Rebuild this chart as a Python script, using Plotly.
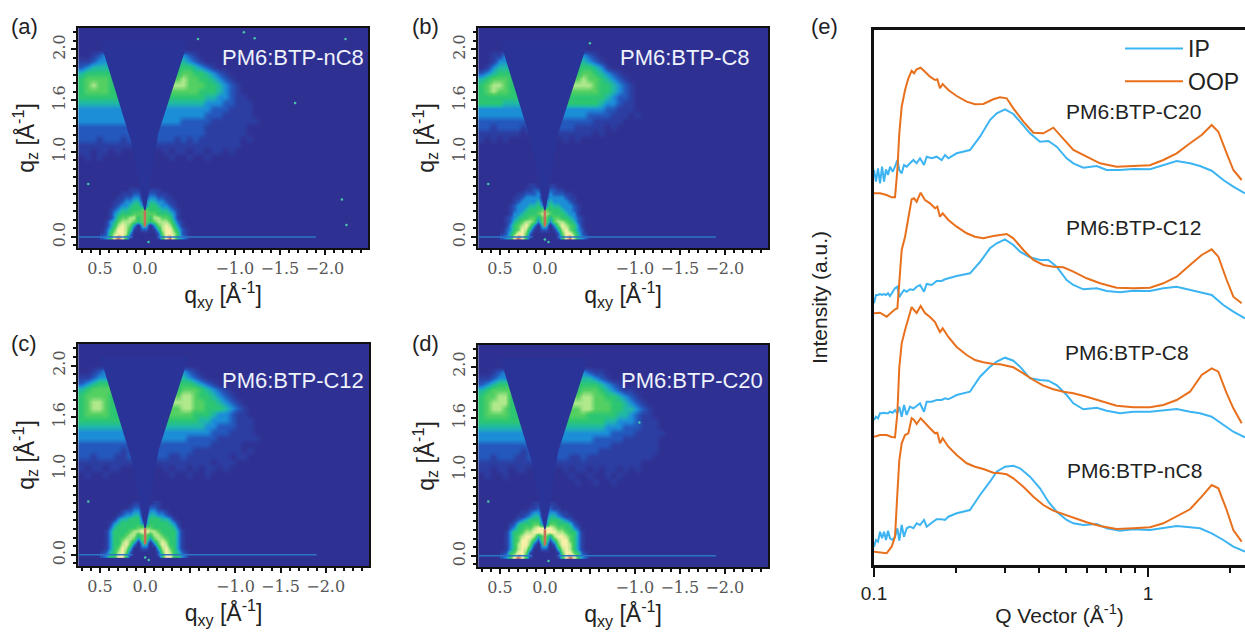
import plotly.graph_objects as go

# GIWAXS maps: one digit per cell, 0 = background ... 9 = hottest
wing_a = ["", "", "", "",
    "001233000000000" + "33321",
    "112333300000000" + "444321",
    "234444400000000" + "55554321",
    "45555550000000" + "55" + "566554321",
    "56666555000000" + "66" + "6766554321",
    "5676655500000" + "77" + "777666554321",
    "5666655500000" + "66" + "666665554321",
    "5555555550000" + "55" + "5555554433211",
    "4444444440000" + "44" + "44444433322111",
    "3333333330000" + "33" + "33333332221111",
    "3333333330000" + "33" + "33333322211111",
    "333333333300" + "33" + "3332222211111111",
    "222222222200" + "22" + "22222221111111",
    "222222222200" + "22" + "22222221111111",
    "222122212200" + "22" + "221212111111101",
    "111111111100" + "11" + "1111111111111",
    "11011010000000" + "1011011011010",
    "01010000000000" + "01001001"]
wing_b = ["", "", "", "",
    "001133000000000" + "33321",
    "001333300000000" + "444321",
    "013444400000000" + "5555431",
    "23455550000000" + "55" + "56654321",
    "45666555000000" + "66" + "676654321",
    "5677655500000" + "77" + "77776554321",
    "5676655500000" + "66" + "66666554321",
    "5555555550000" + "55" + "55555543221",
    "5555444440000" + "55" + "55555433211",
    "3333333330000" + "33" + "33333322111",
    "3333333330000" + "33" + "333222211101",
    "222222222200" + "22" + "2222211111",
    "221222212200" + "22" + "221111101",
    "111111101100" + "11" + "1111101",
    "10101000000000" + "10100"]
wing_c = ["", "", "", "",
    "001233000000000" + "33321",
    "112333300000000" + "444321",
    "234555500000000" + "55554321",
    "45666660000000" + "55" + "566654321",
    "56666555000000" + "77" + "6776554321",
    "5677655500000" + "77" + "777766554321"[0:1] + "77766554321",
    "5677655500000" + "66" + "6" + "677665554321",
    "5666655550000" + "66" + "6666555433211",
    "5555555550000" + "55" + "55555443332111",
    "4444444440000" + "44" + "44444433222111",
    "3333333330000" + "33" + "33333332221111",
    "333333333300" + "33" + "3333222221111111",
    "222222222200" + "22" + "2222222211111",
    "222222212200" + "22" + "222221111111101",
    "221222112200" + "22" + "211211111110110",
    "111111111100" + "11" + "1111111101110",
    "10110110000000" + "10110101101",
    "01001000000000" + "01001001"]
wing_d = ["", "", "", "",
    "001233000000000" + "333211",
    "112333300000000" + "4444321",
    "234555500000000" + "555554321",
    "45666660000000" + "55" + "5666543211",
    "56677555000000" + "77" + "67766554321",
    "5677755500000" + "77" + "7" + "777666554321",
    "5677655500000" + "66" + "6" + "6776665544321",
    "5666655550000" + "66" + "66655555443211",
    "5555555550000" + "55" + "555555443332111",
    "4444444440000" + "44" + "444444333222111",
    "3333333330000" + "33" + "3333333222211111",
    "333333333300" + "33" + "3333322222111111",
    "222222222200" + "22" + "2222222211111111",
    "222222212200" + "22" + "2222221111111111",
    "221222112200" + "22" + "211211111111111",
    "111111111100" + "11" + "1111111111111",
    "11011011000000" + "1011010110101",
    "01001000000000" + "0100100101",
    "00000000000000" + "0010010010"]

ring_a = ["",
    "000000011100111",
    "00000111221122111",
    "000011223312332211",
    "0001123344234433211",
    "0001233455335543321",
    "00123445556655544321",
    "00134555666666555431",
    "00135667756657766531",
    "013467776566567776421",
    "013578763044036787531",
    "0246887510220147886421",
    "1257887300000026887521",
    "2358985100000015897432"]
ring_b = ["000000011000110",
    "0000001122002211",
    "000011222311322211",
    "0001123333123333211",
    "0001233334234333321",
    "00123334453354433321",
    "00123345556655543321",
    "00133455567765554331",
    "012345566466466554321",
    "012456776366367765421",
    "013567863044036876531",
    "023568741022014786532",
    "1246886200000026886421",
    "2348985100000015897432"]
ring_c = ["0000000011000110",
    "000000012200221",
    "00000122331133221",
    "000012334412443321",
    "0001344555235554431",
    "00134555553355555431",
    "00245555566665555542",
    "013555567788776555531",
    "013555677566577655531",
    "013556776366367765531",
    "013557863044036875531",
    "013568740022004786531",
    "1245786200000026875421",
    "2355885100000015885532"]
ring_d = ["000000001100110",
    "000000011200211",
    "00000112331133211",
    "000011234412443211",
    "0001234555235554321",
    "00124555663366555421",
    "00235566788887665532",
    "013556778888887765531",
    "013567887466478876531",
    "013568875266257886531",
    "013578862044026887531",
    "013578740022004787531",
    "1256886100000016886521",
    "2358985100000015898532"]

level_colors = ["#2f3192", "#2c3ea2", "#2458bc", "#1c8ed8", "#20b8a8",
                "#2cc672", "#54d062", "#b0e88c", "#f8f0a8", "#c8705a"]

# beam-stop shadow and the thin specular streak (qxy, qz)
wedge_x = [0.499, 0.148, 0.008, -0.008, -0.148, -0.482]
wedge_y = [2.30, 1.098, 0.31, 0.31, 1.216, 2.30]
streak_x = [0, 0]
streak_y = [0.12, 0.31]

# faint single hot pixels (qxy, qz)
speck_x = [[-0.59, -1.10, -1.22, -2.23, 0.63, -2.19, -2.24, -0.04, -1.67],
           [-0.50, 0.63, -0.04, 0.0],
           [0.63, -0.04, 0.0],
           [0.63, -0.04, -1.05]]
speck_y = [[2.32, 2.40, 2.33, 2.32, 0.62, 0.44, 0.14, -0.06, 1.57],
           [2.27, 0.62, -0.06, -0.03],
           [0.62, -0.06, -0.03],
           [0.63, -0.06, 1.55]]

horizon_x = [0.74, 0.14, None, -0.14, -1.9]
horizon_y = [0, 0, None, 0, 0]

map_names = ["PM6:BTP-nC8", "PM6:BTP-C8", "PM6:BTP-C12", "PM6:BTP-C20"]
map_tags = ["(a)", "(b)", "(c)", "(d)"]

qz_tickvals = [0, 1.0, 1.6, 2.2]
qz_ticktext = ["0.0", "1.0", "1.6", "2.0"]
qxy_tickvals = [0.5, 0, -0.5, -1.0, -1.5, -2.0]
qxy_ticktext = ["0.5", "0.0", "", "\u22121.0", "\u22121.5", "\u22122.0"]

# line cuts (e), intensity in a.u. with the stacking offsets left in
q_ip = [0.1, 0.1017, 0.1034, 0.1052, 0.107, 0.1088, 0.1106, 0.1125, 0.1144, 0.117, 0.1193, 0.1217, 0.1237, 0.1262,
        0.1287, 0.1316, 0.1353, 0.1392, 0.1431, 0.1472, 0.1522, 0.1557, 0.1624, 0.1693, 0.1766, 0.1816, 0.1868,
        0.2003, 0.224, 0.2437, 0.265, 0.2804, 0.3007, 0.3225, 0.3411, 0.371, 0.4035, 0.4328, 0.4642, 0.5048, 0.534,
        0.5807, 0.6497, 0.7066, 0.7902, 0.8842, 1.0169, 1.1376, 1.2724, 1.4235, 1.548, 1.7076, 1.883, 2.0484, 2.2594]
ip_c20 = [395, 383.3, 396.7, 381.7, 398.3, 383.3, 395.7, 390, 398.3, 393.3, 398.3, 405, 395, 391.7, 400,
          398.3, 401.7, 405, 401.7, 406.7, 400, 408.3, 406.7, 408.3, 405, 410, 406.7, 411.7, 415, 428.3,
          445, 451.7, 455.7, 451, 443.3, 431.7, 423.3, 424, 418.3, 406.7, 401.7, 397.3, 399, 395, 395,
          396, 395.7, 400, 404, 401.7, 399, 394.3, 385, 378.3, 371.7]
ip_c12 = [261.7, 270, 270, 271, 270, 271, 270, 271.7, 269, 273.3, 276.7, 278.3, 267.7, 271.7, 275,
          273.3, 275.7, 275, 278.3, 280, 273.3, 281, 280, 284, 284, 285.7, 286.7, 289, 291.7, 303,
          316.7, 321.7, 325.7, 320, 313.3, 307.7, 305, 305, 298.3, 285, 280, 275.7, 276.7, 274, 272.7,
          274.3, 274, 276.7, 278.3, 275, 273.3, 270, 260, 253.3, 246.7]
ip_c8 = [145, 148.3, 146.7, 151.7, 151.7, 152.3, 151.7, 151.7, 153.3, 152.3, 155, 151.7, 158.3, 148.3, 160,
         150, 158.3, 156.7, 159, 161.7, 153.3, 163.3, 163.3, 165, 165, 166.7, 165.7, 170, 173.3, 188.3,
         198.3, 203.3, 207.3, 204.3, 198.3, 186.7, 185, 184.3, 180, 170, 161.7, 155.7, 157.3, 154.3, 151.7,
         153.3, 153.3, 154.3, 156, 153.3, 151.7, 148.3, 140, 133.3, 127.7]
ip_nc8 = [18.3, 25, 23.3, 33.3, 26.7, 33.3, 25, 34.3, 26.7, 25, 28.3, 36.7, 24.3, 40, 28.3,
          36.7, 38.3, 36.7, 41.7, 40, 45, 38.3, 42.3, 45.7, 45.7, 45, 48.3, 51.7, 55, 70,
          83.3, 93.3, 98.3, 99.3, 96.7, 88.3, 76.7, 63.3, 53.3, 45, 41.7, 40, 41, 36.7, 34.3,
          35.7, 35, 36.7, 39, 37.7, 36.7, 31.7, 25, 18.3, 13.3]

q_oop = [0.1, 0.1052, 0.1112, 0.116, 0.1193, 0.1217, 0.1237, 0.1262, 0.1298, 0.1335, 0.1372, 0.14, 0.1431, 0.148,
         0.1535, 0.1601, 0.167, 0.1703, 0.1741, 0.1781, 0.1868, 0.2003, 0.2179, 0.2336, 0.2506, 0.2726, 0.2883,
         0.305, 0.3225, 0.3508, 0.3816, 0.415, 0.4513, 0.4909, 0.534, 0.5972, 0.6682, 0.7686, 0.8842, 1.0169,
         1.1376, 1.2724, 1.4235, 1.5699, 1.7076, 1.806, 1.9373, 2.0484, 2.197]
oop_c20 = [371.7, 371.7, 370, 367.7, 367.7, 395, 431.7, 458.3, 475, 486.7, 494.3, 491.7, 495.7, 497.3, 493.3,
           488.3, 485, 485.7, 476.7, 481, 475, 469, 463.3, 460.7, 461, 465.7, 467.7, 466.7, 456.7, 443.3,
           432.3, 431.7, 437.3, 426.7, 415, 408.3, 401.7, 398.3, 399, 399.7, 405, 411.7, 421.7, 430, 440,
           433.3, 411.7, 395, 385]
oop_c12 = [251.7, 252.3, 248.3, 253.3, 255.7, 256.7, 288.3, 315, 328.3, 348.3, 365.7, 366.7, 363.3, 372.3, 365,
           361.7, 356.7, 358.3, 348.3, 351.7, 345, 338.3, 331.7, 328.3, 326.7, 329, 330, 331, 326.7, 315,
           305, 300, 298.3, 297.7, 293.3, 286.7, 281.7, 277.3, 276.7, 277.3, 281.7, 288.3, 300, 310, 315.7,
           308.3, 285, 268.3, 261.7]
oop_c8 = [128.3, 130, 130, 128, 127.7, 151.7, 198, 221.7, 235, 248, 258, 255, 252, 259, 252,
          248, 243, 238, 233, 236.7, 228, 218, 210, 205, 202.7, 201, 200.7, 199.3, 197.7, 191.7,
          185, 179.3, 175.7, 173.3, 171.7, 168.3, 164, 159.3, 157.7, 157.7, 160, 165, 173.3, 190, 196.7,
          193.3, 171.7, 156.7, 141.7]
oop_nc8 = [13.3, 12.3, 11.7, 18.3, 28.3, 71.7, 105, 121.7, 130, 131.7, 146.7, 145, 141, 146.7, 141.7,
           136.7, 131.7, 132.3, 121.7, 126.7, 118.3, 110, 101.7, 98.3, 96, 92.3, 91.7, 90.7, 86.7, 78.3,
           68.3, 60, 54.3, 50.7, 46.7, 42.7, 39, 36, 36.7, 37.7, 41.7, 48.3, 55.7, 68.3, 80,
           76.7, 55, 35, 23.3]

W, H = 1245, 633


def digits(rows, n_rows, n_cols):
    rows = rows + [""] * (n_rows - len(rows))
    return [[int(ch) for ch in row.ljust(n_cols, "0")] for row in rows]


def px_dom(a, b, size, flip=False):
    if flip:
        return [1 - b / size, 1 - a / size]
    return [a / size, b / size]


def paper_note(text, px, py, size, color):
    return dict(text=text, x=px / W, y=1 - py / H, xref="paper", yref="paper", showarrow=False,
                xanchor="center", yanchor="middle",
                font=dict(family="Liberation Sans", size=size, color=color))


colorscale = [[i / 9, c] for i, c in enumerate(level_colors)]
fig = go.Figure()

boxes = [(78, 368, 28, 248), (478, 768, 28, 248), (78, 369, 344, 566), (478, 768, 345, 567)]
wings = [wing_a, wing_b, wing_c, wing_d]
rings = [ring_a, ring_b, ring_c, ring_d]

annotations = []
for i, (x0, x1, y0, y1) in enumerate(boxes):
    xname = "x" if i == 0 else f"x{i + 1}"
    yname = "y" if i == 0 else f"y{i + 1}"
    fig.add_trace(go.Heatmap(z=digits(wings[i], 37, 49), x0=0.7074, dx=-0.0667, y0=2.416, dy=-0.0706,
                             zmin=0, zmax=9, colorscale=colorscale, showscale=False, zsmooth="best",
                             hoverinfo="skip", xaxis=xname, yaxis=yname))
    fig.add_trace(go.Heatmap(z=digits(rings[i], 14, 23), x0=0.4778, dx=-0.0444, y0=0.604, dy=-0.04706,
                             zmin=0, zmax=9, colorscale=colorscale, showscale=False, zsmooth="best",
                             hoverinfo="skip", xaxis=xname, yaxis=yname))
    fig.add_trace(go.Scatter(x=wedge_x, y=wedge_y, mode="lines", fill="toself", fillcolor="#2a3498",
                             line=dict(width=0, color="#2a3498"), showlegend=False, hoverinfo="skip",
                             xaxis=xname, yaxis=yname))
    fig.add_trace(go.Scatter(x=streak_x, y=streak_y, mode="lines", line=dict(color="#c8705a", width=2.5),
                             showlegend=False, hoverinfo="skip", xaxis=xname, yaxis=yname))
    fig.add_trace(go.Scatter(x=horizon_x, y=horizon_y, mode="lines", line=dict(color="#2c74c8", width=1.5),
                             showlegend=False, hoverinfo="skip", xaxis=xname, yaxis=yname))
    fig.add_trace(go.Scatter(x=speck_x[i], y=speck_y[i], mode="markers",
                             marker=dict(color="#45c8a8", size=2.5),
                             showlegend=False, hoverinfo="skip", xaxis=xname, yaxis=yname))

    common = dict(showline=True, linecolor="#111111", linewidth=2, mirror=True, showgrid=False, zeroline=False,
                  automargin=False, ticks="outside", ticklen=5, tickwidth=2, tickcolor="#111111",
                  tickfont=dict(family="DejaVu Serif", size=16, color="#555555"))
    fig.layout[xname.replace("x", "xaxis")] = dict(
        common, domain=px_dom(x0, x1, W), anchor=yname, range=[0.744, -2.48],
        tickmode="array", tickvals=qxy_tickvals, ticktext=qxy_ticktext, tickangle=0,
        minor=dict(ticks="outside", dtick=0.1, ticklen=3, tickwidth=1.5, tickcolor="#111111"),
        title=dict(text="q<sub>xy</sub> [\u00c5<sup>-1</sup>]", standoff=9,
                   font=dict(family="Liberation Sans", size=23, color="#222222")))
    fig.layout[yname.replace("y", "yaxis")] = dict(
        common, domain=px_dom(y0, y1, H, flip=True), anchor=xname, range=[-0.13, 2.45],
        tickmode="array", tickvals=qz_tickvals, ticktext=qz_ticktext, tickangle=-90,
        minor=dict(ticks="outside", dtick=0.1, ticklen=3, tickwidth=1.5, tickcolor="#111111"),
        title=dict(text="q<sub>z</sub> [\u00c5<sup>-1</sup>]", standoff=9,
                   font=dict(family="Liberation Sans", size=23, color="#222222")))

name_pos = [(293, 57), (685, 57), (293, 380), (692, 380)]
tag_pos = [(24, 27), (425, 27), (24, 343), (425, 343)]
for name, tag, (nx, ny), (tx, ty) in zip(map_names, map_tags, name_pos, tag_pos):
    annotations.append(paper_note(name, nx, ny, 22, "#eef2fb"))
    annotations.append(paper_note(tag, tx, ty, 22, "#222222"))

# panel (e)
ip_sets = [ip_c20, ip_c12, ip_c8, ip_nc8]
oop_sets = [oop_c20, oop_c12, oop_c8, oop_nc8]
for k in range(4):
    fig.add_trace(go.Scatter(x=q_ip, y=ip_sets[k], mode="lines", name="IP", showlegend=k == 0,
                             line=dict(color="#3db4f2", width=2), xaxis="x5", yaxis="y5"))
    fig.add_trace(go.Scatter(x=q_oop, y=oop_sets[k], mode="lines", name="OOP", showlegend=k == 0,
                             line=dict(color="#e8701c", width=2), xaxis="x5", yaxis="y5"))

fig.update_layout(
    xaxis5=dict(type="log", domain=px_dom(874, 1245, W), anchor="y5", range=[-1, 0.354], automargin=False,
                showline=True, linecolor="#111111", linewidth=2.5, mirror=True, showgrid=False, zeroline=False,
                ticks="outside", ticklen=9, tickwidth=2, tickcolor="#111111",
                tickmode="array", tickvals=[0.1, 1], ticktext=["0.1", "1"],
                tickfont=dict(family="Liberation Sans", size=19, color="#222222"),
                minor=dict(ticks="outside", ticklen=5, tickwidth=1.5, tickcolor="#111111",
                           tickvals=[0.2, 0.3, 0.4, 0.5, 0.6, 0.7, 0.8, 0.9, 2]),
                title=dict(text="Q Vector (\u00c5<sup>-1</sup>)", standoff=6,
                           font=dict(family="Liberation Sans", size=21, color="#222222"))),
    yaxis5=dict(domain=px_dom(30, 565, H, flip=True), anchor="x5", range=[0, 535], automargin=False,
                showline=True, linecolor="#111111", linewidth=2.5, showgrid=False, zeroline=False,
                showticklabels=False, ticks="",
                title=dict(text="Intensity (a.u.)", standoff=38,
                           font=dict(family="Liberation Sans", size=21, color="#222222"))),
)

line_names = [("PM6:BTP-C20", 1133, 112), ("PM6:BTP-C12", 1133, 227),
              ("PM6:BTP-C8", 1127, 353), ("PM6:BTP-nC8", 1134, 470)]
for text, lx, ly in line_names:
    annotations.append(paper_note(text, lx, ly, 21, "#222222"))
annotations.append(paper_note("(e)", 824, 27, 22, "#222222"))

fig.update_layout(
    width=W, height=H, margin=dict(l=0, r=0, t=0, b=0),
    paper_bgcolor="white", plot_bgcolor="white",
    annotations=annotations,
    legend=dict(x=1.0, xanchor="right", y=1 - 27 / H, yanchor="top", bgcolor="rgba(0,0,0,0)",
                tracegroupgap=0, font=dict(family="Liberation Sans", size=23, color="#222222"), itemwidth=58),
)

fig.write_html("out.html", post_script="document.body.style.margin='0';", config={"displayModeBar": False})
